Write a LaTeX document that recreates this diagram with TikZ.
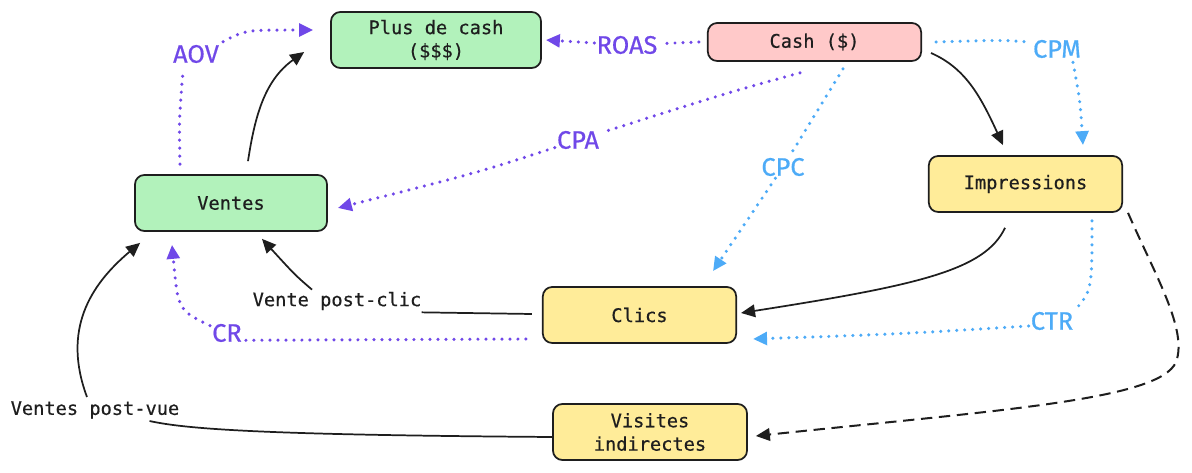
\documentclass[tikz,border=0pt]{standalone}
\usepackage{fontspec}
\setmainfont{Fira Sans}[FakeBold=0.6]
\setmonofont{DejaVu Sans Mono}[FakeBold=0.5]
\usetikzlibrary{arrows.meta,calc}
\definecolor{ink}{HTML}{1E1E1E}
\definecolor{mint}{HTML}{B2F2BB}
\definecolor{rose}{HTML}{FFC9C9}
\definecolor{butter}{HTML}{FFEC99}
\definecolor{purp}{HTML}{7048E8}
\definecolor{sky}{HTML}{4DABF7}
\begin{document}
\begin{tikzpicture}[x=0.75pt,y=-0.75pt,
  box/.style={draw=ink, line width=1.3pt, rounded corners=7pt, align=center,
    font=\ttfamily\fontsize{14}{17.5}\selectfont, text=ink, inner sep=0pt},
  lbl/.style={font=\fontsize{19}{22}\selectfont, inner sep=1.5pt},
  note/.style={font=\ttfamily\fontsize{14}{16}\selectfont, text=ink, inner sep=1.5pt},
  tip/.style={-{Triangle[length=10.5pt,width=9.5pt]}},
  solidln/.style={draw=ink, line width=1.3pt},
  dotln/.style={line width=2.6pt, line cap=round, dash pattern=on 0pt off 6pt},
  dashln/.style={draw=ink, line width=1.5pt, dash pattern=on 8.5pt off 5pt},
]
\useasboundingbox (0,0) rectangle (1192,473);

% boxes
\node[box,fill=mint,minimum width=157.5pt,minimum height=42pt] (plus) at (436,40) {Plus de cash\\(\$\$\$)};
\node[box,fill=rose,minimum width=160pt,minimum height=28.5pt] (cash) at (814.5,42) {Cash (\$)};
\node[box,fill=butter,minimum width=145pt,minimum height=42pt] (impr) at (1025.5,184) {Impressions};
\node[box,fill=mint,minimum width=144pt,minimum height=42pt] (ventes) at (231,203) {Ventes};
\node[box,fill=butter,minimum width=145pt,minimum height=42pt] (clics) at (639.5,315) {Clics};
\node[box,fill=butter,minimum width=145.5pt,minimum height=42pt] (visites) at (650,432) {Visites\\indirectes};

% metric labels
\node[lbl,text=purp] (roas) at (627,45) {ROAS};
\node[lbl,text=purp] (cpa) at (578,140) {CPA};
\node[lbl,text=purp] (aov) at (196,54) {AOV};
\node[lbl,text=purp] (cr) at (227,333) {CR};
\node[lbl,text=sky] (cpc) at (783,167) {CPC};
\node[lbl,text=sky] (cpm) at (1057,49) {CPM};
\node[lbl,text=sky] (ctr) at (1052,321) {CTR};
\node[note] (vpc) at (337,301) {Vente post-clic};
\node[note] (vpv) at (95,410) {Ventes post-vue};
\coordinate (bendR) at (1176,362);

% ROAS
\draw[dotln,purp] ($(cash.west)+(-8,0)$) -- (roas);
\draw[dotln,purp,tip] (roas) -- ($(plus.east)+(4,0)$);

% CPA
\draw[dotln,purp] ($(cash.south)+(-14.5,11)$) .. controls (730,92) .. (cpa);
\draw[dotln,purp,tip] (cpa) .. controls (480,172) .. ($(ventes.east)+(10,5)$);

% CPC
\draw[dotln,sky] ($(cash.south)+(28.5,7)$) -- (cpc);
\draw[dotln,sky,tip] (cpc) -- ($(clics.north)+(73.5,-15)$);

% Cash -> Impressions
\draw[solidln,tip] ($(cash.east)+(9,11)$) .. controls (965,68) and (980,95) .. ($(impr.north)+(-22.5,-10)$);

% CPM
\draw[dotln,sky] ($(cash.east)+(14,0)$) .. controls (1000,40) .. ($(cpm.west)+(0,-7)$);
\draw[dotln,sky,tip] ($(cpm.south)+(16,2)$) .. controls (1080,100) .. ($(impr.north)+(57.5,-10)$);

% Impressions -> Clics
\draw[solidln,tip] ($(impr.south)+(-20.5,15)$) .. controls (985,270) and (920,285) .. ($(clics.east)+(4,-2)$);

% CTR
\draw[dotln,sky] ($(impr.south)+(66.5,8)$) .. controls (1092,290) .. (ctr.north east);
\draw[dotln,sky,tip] ($(ctr.west)+(0,5)$) .. controls (900,334) .. ($(clics.east)+(16,24)$);

% Impressions -> Visites indirectes
\draw[dashln,tip] ($(impr.south east)+(5,0)$) .. controls (1155,275) and (1188,330) .. (bendR)
  .. controls (1160,400) and (1000,410) .. ($(visites.east)+(8,4)$);

% Ventes -> Plus de cash
\draw[solidln,tip] ($(ventes.north)+(17,-13)$) .. controls (255,115) and (265,80) .. ($(plus.west)+(-26,12)$);

% AOV
\draw[dotln,purp] ($(ventes.north)+(-51,-10)$) .. controls (179,120) .. ($(aov.south)+(-13,6)$);
\draw[dotln,purp,tip] ($(aov.north east)+(2,-1)$) .. controls (245,30) .. ($(plus.west)+(-17,-10)$);

% Clics -> Ventes (post-clic)
\draw[solidln] ($(clics.west)+(-10,-1)$) -- ($(vpc.south east)+(-2,0)$);
\draw[solidln,tip] ($(vpc.north)+(-25,0)$) .. controls (295,275) .. ($(ventes.south)+(31,7)$);

% CR
\draw[dotln,purp] ($(clics.west)+(-16,24)$) -- ($(cr.south east)+(0,-4)$);
\draw[dotln,purp,tip] ($(cr.north west)+(0,4)$) .. controls (178,310) .. ($(ventes.south)+(-59,13)$);

% Visites indirectes -> Ventes (post-vue)
\draw[solidln] ($(visites.west)+(0,5)$) .. controls (280,435) and (190,430) .. ($(vpv.south east)+(-32,0)$);
\draw[solidln,tip] ($(vpv.north)+(-8,-2)$) .. controls (62,330) and (90,285) .. ($(ventes.south west)+(6,11)$);
\end{tikzpicture}
\end{document}
